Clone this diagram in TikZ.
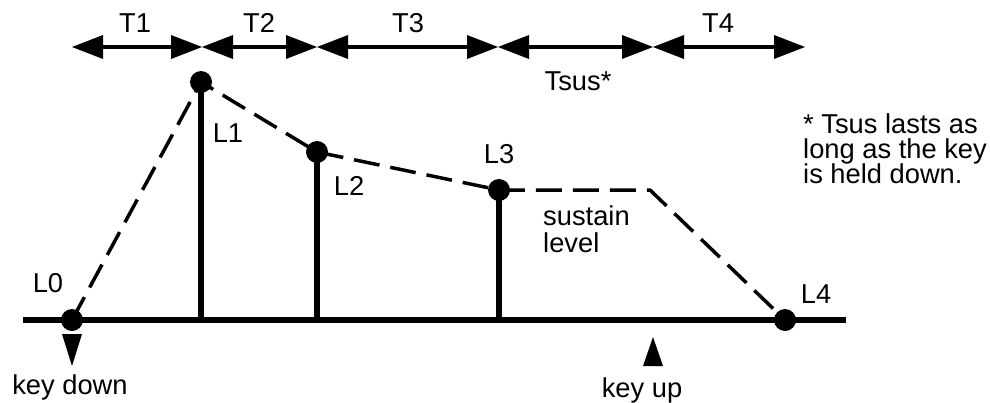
\documentclass[tikz,border=0pt]{standalone}
\usepackage{fontspec}
\setmainfont{Liberation Sans}
\usetikzlibrary{arrows.meta}
\begin{document}
\begin{tikzpicture}[x=1pt,y=-1pt,
  lbl/.style={font=\fontsize{27.3}{25}\selectfont, inner sep=0pt},
  dot/.style={circle, fill=black, minimum size=22pt, inner sep=0pt},
  heavy/.style={line width=5.5pt},
  env/.style={line width=3.5pt, dash pattern=on 26pt off 11pt},
  span/.style={line width=3.5pt, {Triangle[length=31pt,width=24pt,line width=0pt]}-{Triangle[length=31pt,width=24pt,line width=0pt]}},
  keytri/.style={fill=black}
]
\useasboundingbox (0,0) rectangle (990,402);

% key points
\coordinate (P0) at (72,320);
\coordinate (P1) at (201,82);
\coordinate (P2) at (317,152);
\coordinate (P3) at (499,190);
\coordinate (S)  at (650,190);
\coordinate (P4) at (785,320);
\coordinate (F1) at (201,320);
\coordinate (F2) at (317,320);
\coordinate (F3) at (499,320);
\coordinate (B0) at (23,320);
\coordinate (B1) at (846,320);

% baseline and stems
\draw[heavy] (B0) -- (B1);
\draw[heavy] (P1) -- (F1);
\draw[heavy] (P2) -- (F2);
\draw[heavy] (P3) -- (F3);

% envelope
\draw[env] (P0) -- (P1) -- (P2) -- (P3) -- (S) -- (P4);

% dots
\node[dot] (L0d) at (P0) {};
\node[dot] (L1d) at (P1) {};
\node[dot] (L2d) at (P2) {};
\node[dot] (L3d) at (P3) {};
\node[dot] (L4d) at (P4) {};

% time spans
\coordinate (A0) at (72,47);
\coordinate (A1) at (202,47);
\coordinate (A2) at (317,47);
\coordinate (A3) at (498,47);
\coordinate (A4) at (653,47);
\coordinate (A5) at (805,47);
\draw[span] (A0) -- (A1);
\draw[span] (A1) -- (A2);
\draw[span] (A2) -- (A3);
\draw[span] (A3) -- (A4);
\draw[span] (A4) -- (A5);

\node[lbl, anchor=base] (T1) at (135,32) {T1};
\node[lbl, anchor=base] (T2) at (259,32) {T2};
\node[lbl, anchor=base] (T3) at (408,32) {T3};
\node[lbl, anchor=base] (T4) at (718,32) {T4};
\node[lbl, anchor=base] (Tsus) at (578,90) {Tsus*};

% level labels
\node[lbl, anchor=base] (L0) at (48,292) {L0};
\node[lbl, anchor=base] (L1) at (228,142) {L1};
\node[lbl, anchor=base] (L2) at (349,195) {L2};
\node[lbl, anchor=base] (L3) at (499,163) {L3};
\node[lbl, anchor=base] (L4) at (816,303) {L4};
\node[lbl, anchor=base west] (sus1) at (543,225) {sustain};
\node[lbl, anchor=base west] (sus2) at (543,252) {level};

% key markers
\fill[keytri] (62,334) -- (82,334) -- (72,366) -- cycle;
\fill[keytri] (643,366) -- (663,366) -- (653,337) -- cycle;
\node[lbl, anchor=base] (kd) at (70,394) {key down};
\node[lbl, anchor=base] (ku) at (642,397) {key up};

% note
\node[lbl, anchor=base west] (n1) at (803,133) {* Tsus lasts as};
\node[lbl, anchor=base west] (n2) at (803,158) {long as the key};
\node[lbl, anchor=base west] (n3) at (803,183) {is held down.};
\end{tikzpicture}
\end{document}
